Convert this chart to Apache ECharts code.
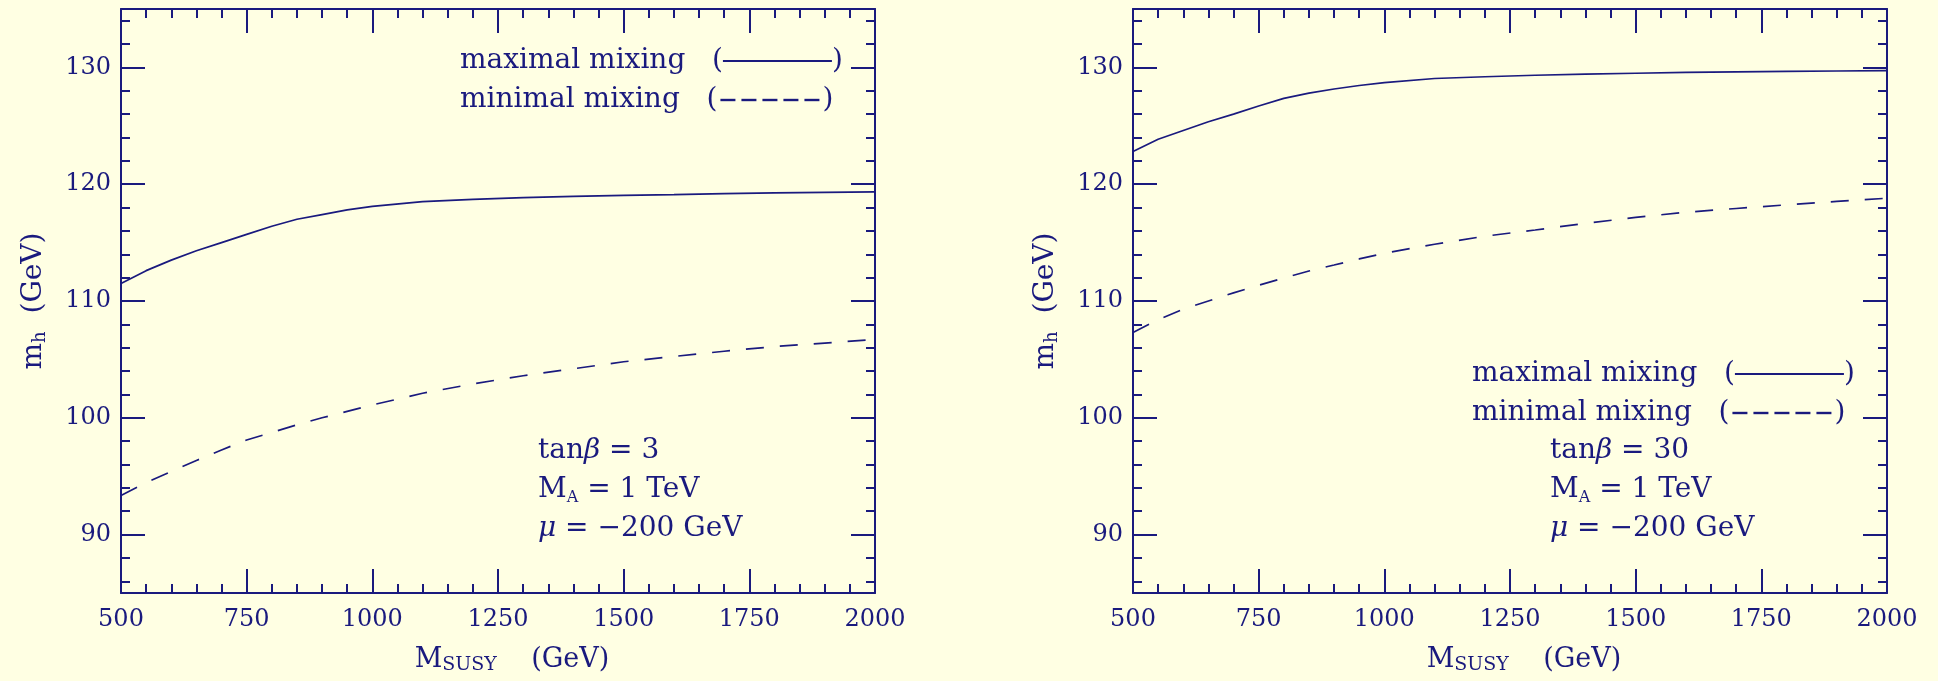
<!DOCTYPE html>
<html>
<head>
<meta charset="utf-8">
<script src="https://cdn.jsdelivr.net/npm/echarts@6/dist/echarts.min.js"></script>
<style>
html,body{margin:0;padding:0;background:#FFFFE3;}
#chart{width:1938px;height:681px;}
</style>
</head>
<body>
<div id="chart"></div>
<script>
// M_SUSY values (GeV)
const msusy = [500, 550, 600, 650, 700, 750, 800, 850, 900, 950, 1000, 1100, 1200, 1300, 1400, 1500, 1600, 1700, 1800, 1900, 2000];
// tan beta = 3
const tb3Maximal = [111.5, 112.6, 113.5, 114.3, 115.0, 115.7, 116.4, 117.0, 117.4, 117.8, 118.1, 118.5, 118.7, 118.85, 118.95, 119.05, 119.1, 119.2, 119.25, 119.3, 119.35];
const tb3Minimal = [93.35, 94.45, 95.4, 96.35, 97.25, 98.1, 98.75, 99.4, 100.0, 100.55, 101.1, 102.1, 102.9, 103.6, 104.2, 104.8, 105.25, 105.7, 106.1, 106.4, 106.7];
// tan beta = 30
const tb30Maximal = [122.8, 123.85, 124.6, 125.35, 126.0, 126.7, 127.35, 127.8, 128.15, 128.45, 128.7, 129.05, 129.2, 129.33, 129.43, 129.5, 129.57, 129.62, 129.66, 129.69, 129.72];
const tb30Minimal = [107.3, 108.4, 109.3, 110.0, 110.7, 111.35, 111.97, 112.57, 113.08, 113.6, 114.09, 114.86, 115.55, 116.08, 116.65, 117.16, 117.6, 117.92, 118.23, 118.53, 118.8];
// axis ticks
const yMajorTicks = [90, 100, 110, 120, 130];
const yMinorTicks = [86, 88, 92, 94, 96, 98, 102, 104, 106, 108, 112, 114, 116, 118, 122, 124, 126, 128, 132, 134];

const C = '#1a1a7e';
const FONT = 'DejaVu Serif';
const pairs = (ys) => msusy.map((x, i) => [x, ys[i]]);

const grids = [
  {left: 121, top: 9, width: 754, height: 584},
  {left: 1133, top: 9, width: 754, height: 584}
];

function xAxes(g) {
  const common = {
    type: 'value', gridIndex: g, min: 500, max: 2000, interval: 250,
    axisLine: {show: true, onZero: false, lineStyle: {color: C, width: 2}},
    axisTick: {show: true, inside: true, length: 24, lineStyle: {color: C, width: 2}},
    minorTick: {show: true, splitNumber: 5, length: 9, lineStyle: {color: C, width: 2}},
    splitLine: {show: false}, minorSplitLine: {show: false}
  };
  const bottom = Object.assign({}, common, {
    position: 'bottom',
    axisLabel: {show: true, color: C, fontFamily: FONT, fontSize: 24, margin: 15, formatter: (v) => String(v)},
    name: '{m|M}{s|SUSY}{m|    (GeV)}',
    nameLocation: 'middle',
    nameGap: 52,
    nameTextStyle: {
      padding: [0, 0, 0, 28],
      rich: {
        m: {color: C, fontFamily: FONT, fontSize: 27, lineHeight: 30},
        s: {color: C, fontFamily: FONT, fontSize: 19, lineHeight: 14, verticalAlign: 'bottom'}
      }
    }
  });
  const top = Object.assign({}, common, {position: 'top', axisLabel: {show: false}});
  return [bottom, top];
}

function yAxes(g) {
  const base = {
    type: 'value', gridIndex: g, min: 85, max: 135,
    splitLine: {show: false}
  };
  const leftMajor = Object.assign({}, base, {
    position: 'left',
    axisLine: {show: true, onZero: false, lineStyle: {color: C, width: 2}},
    axisTick: {show: true, inside: true, length: 24, customValues: yMajorTicks, lineStyle: {color: C, width: 2}},
    axisLabel: {show: true, customValues: yMajorTicks, color: C, fontFamily: FONT, fontSize: 24, margin: 10},
    name: '{m|m}{s|h}{m|  (GeV)}',
    nameLocation: 'middle',
    nameGap: 72,
    nameTextStyle: {
      rich: {
        m: {color: C, fontFamily: FONT, fontSize: 28, lineHeight: 30},
        s: {color: C, fontFamily: FONT, fontSize: 18, lineHeight: 20, verticalAlign: 'bottom'}
      }
    }
  });
  const leftMinor = Object.assign({}, base, {
    position: 'left',
    axisLine: {show: false, onZero: false},
    axisTick: {show: true, inside: true, length: 9, customValues: yMinorTicks, lineStyle: {color: C, width: 2}},
    axisLabel: {show: false}
  });
  const rightMajor = Object.assign({}, base, {
    position: 'right',
    axisLine: {show: true, onZero: false, lineStyle: {color: C, width: 2}},
    axisTick: {show: true, inside: true, length: 24, customValues: yMajorTicks, lineStyle: {color: C, width: 2}},
    axisLabel: {show: false}
  });
  const rightMinor = Object.assign({}, base, {
    position: 'right',
    axisLine: {show: false, onZero: false},
    axisTick: {show: true, inside: true, length: 9, customValues: yMinorTicks, lineStyle: {color: C, width: 2}},
    axisLabel: {show: false}
  });
  return [leftMajor, leftMinor, rightMajor, rightMinor];
}

function lineSeries(xi, yi, ys, dashed) {
  return {
    type: 'line', xAxisIndex: xi, yAxisIndex: yi, data: pairs(ys),
    showSymbol: false, symbol: 'none', smooth: false, silent: true,
    lineStyle: {color: C, width: 1.7, type: dashed ? [18, 16] : 'solid'},
    z: 3
  };
}

const richText = {
  t: {fill: C, fontFamily: FONT, fontSize: 28, lineHeight: 32},
  i: {fill: C, fontFamily: FONT, fontSize: 28, fontStyle: 'italic', lineHeight: 32},
  s: {fill: C, fontFamily: FONT, fontSize: 16, lineHeight: 8, verticalAlign: 'bottom'},
  solid: {width: 109, height: 2, lineHeight: 2, backgroundColor: C},
  dash: {width: 15, height: 2.4, lineHeight: 2.4, backgroundColor: C},
  gap: {width: 6, height: 2, lineHeight: 2},
  gap0: {width: 3, height: 2, lineHeight: 2}
};

function textEl(x, y, text) {
  return {
    type: 'text', x: x, y: y, z: 10, silent: true,
    style: {text: text, rich: richText, fill: C, fontFamily: FONT, fontSize: 28, verticalAlign: 'middle', align: 'left'}
  };
}

const dashedKey = '{gap0| }{dash| }{gap| }{dash| }{gap| }{dash| }{gap| }{dash| }{gap| }{dash| }{gap0| }';

function annotations(gx, tanb, legendTop) {
  const ly = legendTop;
  return [
    textEl(gx + 339, ly, '{t|maximal mixing   (}{solid| }{t|)}'),
    textEl(gx + 339, ly + 39, '{t|minimal mixing   (}' + dashedKey + '{t|)}'),
    textEl(gx + 417, 451, '{t|tan}{i|β}{t| = ' + tanb + '}'),
    textEl(gx + 417, 490, '{t|M}{s|A}{t| = 1 TeV}'),
    textEl(gx + 417, 529, '{i|μ}{t| = −200 GeV}')
  ];
}

const chart = echarts.init(document.getElementById('chart'), null, {renderer: 'canvas'});
const xa = xAxes(0).concat(xAxes(1));
const ya = yAxes(0).concat(yAxes(1));
chart.setOption({
  backgroundColor: '#FFFFE3',
  animation: false,
  grid: grids,
  xAxis: xa,
  yAxis: ya,
  series: [
    lineSeries(0, 0, tb3Maximal, false),
    lineSeries(0, 0, tb3Minimal, true),
    lineSeries(2, 4, tb30Maximal, false),
    lineSeries(2, 4, tb30Minimal, true)
  ],
  graphic: annotations(121, '3', 61).concat(annotations(1133, '30', 374))
});
</script>
</body>
</html>
